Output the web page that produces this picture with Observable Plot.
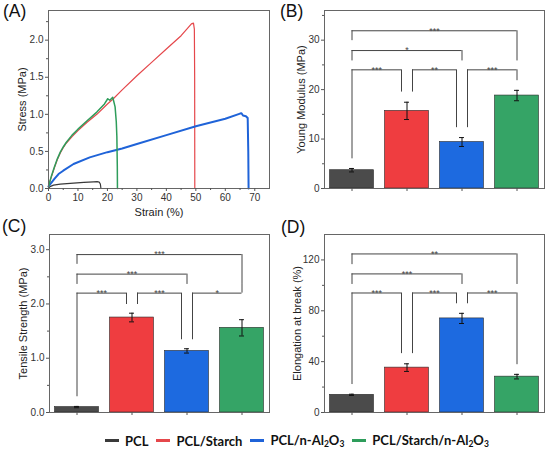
<!DOCTYPE html>
<html>
<head>
<meta charset="utf-8">
<script src="https://cdn.jsdelivr.net/npm/d3@7"></script>
<script src="https://cdn.jsdelivr.net/npm/@observablehq/plot@0.6"></script>
<style>
  body { margin: 0; background: #fff; }
  #wrap { position: relative; width: 550px; height: 451px; font-family: "Liberation Sans", Arial, sans-serif; overflow: hidden; }
  .panel { position: absolute; }
  .plabel { position: absolute; font-size: 17.5px; line-height: 17.5px; color: #111; }
  #legend { position: absolute; left: 105px; top: 432px; display: flex; justify-content: flex-start; align-items: center;
            font-family: Lato, "Open Sans", sans-serif; font-weight: bold; font-size: 13px; color: #111; white-space: nowrap; }
  #legend .item { display: flex; align-items: center; margin-right: 8px; }
  #legend .sw { width: 14px; height: 3px; margin-right: 6px; }
  #legend sub { font-size: 8.5px; vertical-align: -2px; }
</style>
</head>
<body>
<div id="wrap">
  <div class="panel" id="pA" style="left:0;top:0"></div>
  <div class="panel" id="pB" style="left:275px;top:0"></div>
  <div class="panel" id="pC" style="left:0;top:224px"></div>
  <div class="panel" id="pD" style="left:275px;top:224px"></div>
  <div class="plabel" style="left:3px;top:3px">(A)</div>
  <div class="plabel" style="left:280px;top:3px">(B)</div>
  <div class="plabel" style="left:2px;top:218px">(C)</div>
  <div class="plabel" style="left:281px;top:219px">(D)</div>
  <div id="legend"></div>
</div>
<script>
// ---------- categories / colours ----------
const seriesNames = ["PCL", "PCL/Starch", "PCL/n-Al₂O₃", "PCL/Starch/n-Al₂O₃"];
const lineColors = ["#3a3a3a", "#e5474b", "#1f63d8", "#2e9d5b"];
const barColors = ["#4b4b4b", "#ef3d40", "#1d6ae0", "#35a466"];

// ---------- (A) stress–strain curves ----------
const pclStrain = [0, 0.5, 1.7, 4, 8.5, 12, 15.3, 16.5, 17.2, 17.6, 17.8];
const pclStress = [0, 0.025, 0.045, 0.06, 0.073, 0.082, 0.09, 0.092, 0.085, 0.06, 0];

const starchStrain = [0, 0.5, 1, 2, 3, 4, 5, 6, 8, 10, 13, 16.4, 20, 22, 25, 30, 35, 40, 45, 48.5, 49.2, 49.5, 49.6, 49.65];
const starchStress = [0.02, 0.1, 0.16, 0.28, 0.39, 0.48, 0.55, 0.61, 0.70, 0.78, 0.89, 1.0, 1.14, 1.21, 1.33, 1.52, 1.70, 1.88, 2.06, 2.22, 2.23, 2.15, 1.5, 0];

const alStrain = [0, 1, 2, 3.4, 5, 8.5, 14, 20, 25, 30, 40, 50, 60, 65, 65.5, 66, 67, 67.6, 67.8, 67.9];
const alStress = [0.03, 0.08, 0.13, 0.195, 0.24, 0.33, 0.42, 0.49, 0.54, 0.60, 0.72, 0.84, 0.94, 1.01, 1.015, 0.985, 0.975, 0.95, 0.5, 0];

const starchAlStrain = [0, 0.5, 1, 2, 3, 4, 5, 6, 8, 10, 13, 16.4, 19, 20.1, 20.8, 21.8, 22.6, 23.0, 23.2, 23.35, 23.4];
const starchAlStress = [0.02, 0.1, 0.17, 0.29, 0.40, 0.49, 0.56, 0.62, 0.72, 0.80, 0.91, 1.03, 1.14, 1.21, 1.19, 1.23, 1.10, 0.9, 0.7, 0.3, 0];

const curveStrains = [pclStrain, starchStrain, alStrain, starchAlStrain];
const curveStresses = [pclStress, starchStress, alStress, starchAlStress];
const curveWidths = [1.2, 1.2, 2, 1.5];

const aXTicks = [0, 10, 20, 30, 40, 50, 60, 70];
const aXMinor = [5, 15, 25, 35, 45, 55, 65];
const aYTicks = [0, 0.5, 1.0, 1.5, 2.0];
const aYMinor = [0.25, 0.75, 1.25, 1.75, 2.25];

// ---------- (B) Young modulus ----------
const youngMean = [3.7, 15.7, 9.4, 18.8];
const youngErr = [0.35, 1.75, 0.9, 1.05];
const youngPairs = [[0, 1], [1, 2], [2, 3], [0, 2], [0, 3]];
const youngLevel = [24, 24, 24, 27.9, 31.9];
const youngLegA = [6, 19.5, 12.3, 25.8, 29.9];
const youngLegB = [19.5, 12.3, 21.8, 25.8, 25.8];
const youngStars = ["***", "**", "***", "*", "***"];
const bYTicks = [0, 10, 20, 30];
const bYMinor = [5, 15, 25, 35];

// ---------- (C) Tensile strength ----------
const tensileMean = [0.10, 1.75, 1.135, 1.56];
const tensileErr = [0.012, 0.08, 0.04, 0.15];
const tensilePairs = [[0, 1], [1, 2], [2, 3], [0, 2], [0, 3]];
const tensileLevel = [2.20, 2.20, 2.20, 2.55, 2.91];
const tensileLegA = [0.29, 1.99, 1.34, 2.36, 2.73];
const tensileLegB = [1.99, 1.34, 2.36, 2.36, 2.36];
const tensileStars = ["***", "***", "*", "***", "***"];
const cYTicks = [0, 1, 2, 3];
const cYMinor = [0.5, 1.5, 2.5];

// ---------- (D) Elongation at break ----------
const elongMean = [13.9, 35.3, 74.0, 28.2];
const elongErr = [0.5, 3.0, 4.0, 1.8];
const elongPairs = [[0, 1], [1, 2], [2, 3], [0, 2], [0, 3]];
const elongLevel = [94, 94, 94, 109, 124.7];
const elongLegA = [22, 46.3, 85.5, 100.7, 116.3];
const elongLegB = [46.3, 85.5, 37.6, 100.7, 100.7];
const elongStars = ["***", "***", "***", "***", "**"];
const dYTicks = [0, 40, 80, 120];
const dYMinor = [20, 60, 100];

// ---------- shared style ----------
const baseStyle = { fontFamily: '"Liberation Sans", Arial, sans-serif', fontSize: "10px", color: "#333", background: "transparent", overflow: "visible" };
const blank = () => "";

function yAxes(ticks, minor, fmt) {
  return [
    Plot.axisY(ticks, { tickSize: 3, tickPadding: 2, tickFormat: fmt, label: null, fontSize: 10, fill: "#333", stroke: "#555" }),
    Plot.axisY(minor, { tickSize: 2, tickFormat: blank, label: null, stroke: "#555" })
  ];
}

// ---------- panel A ----------
const curveMarks = curveStrains.map((xs, k) =>
  Plot.line(xs.map((x, j) => ({ x, y: curveStresses[k][j] })), { x: "x", y: "y", stroke: lineColors[k], strokeWidth: curveWidths[k] })
);
const plotA = Plot.plot({
  width: 275, height: 225, marginLeft: 48, marginRight: 6, marginTop: 10, marginBottom: 37,
  style: baseStyle,
  x: { domain: [0, 75] },
  y: { domain: [0, 2.4] },
  marks: [
    ...curveMarks,
    Plot.frame({ stroke: "#666" }),
    Plot.axisX(aXTicks, { tickSize: 3, tickPadding: 2, label: null, fontSize: 10, fill: "#333", stroke: "#555" }),
    Plot.axisX(aXMinor, { tickSize: 2, tickFormat: blank, label: null, stroke: "#555" }),
    ...yAxes(aYTicks, aYMinor, d3.format(".1f")),
    Plot.text(["Stress (MPa)"], { frameAnchor: "left", textAnchor: "middle", dx: -26, rotate: -90, fontSize: 11, fill: "#222" }),
    Plot.text(["Strain (%)"], { frameAnchor: "bottom", textAnchor: "middle", dy: 27, fontSize: 11, fill: "#222" })
  ]
});
document.getElementById("pA").append(plotA);

// ---------- bar panels ----------
function barPanel(o) {
  const rows = seriesNames.map((n, i) => ({ n, i, v: o.mean[i], e: o.err[i] }));
  const br = o.pairs.map(([a, b], j) => ({ a, b, y: o.level[j], ya: o.legA[j], yb: o.legB[j], s: o.stars[j] }));
  // shift bracket ends away from a bar shared with another bracket on the same level
  br.forEach(d => {
    const shared = k => br.some(e => e !== d && e.y === d.y && (e.a === k || e.b === k));
    d.xa = d.a + (shared(d.a) ? 0.1 : 0);
    d.xb = d.b - (shared(d.b) ? 0.1 : 0);
    d.xm = (d.xa + d.xb) / 2;
  });
  const bw = 0.4, cap = 0.045, lc = "#444";
  return Plot.plot({
    width: 275, height: o.height, marginLeft: 49, marginRight: 6, marginTop: 10, marginBottom: o.mb,
    style: baseStyle,
    x: { type: "linear", domain: [-0.5, 3.5] },
    y: { domain: o.yDomain },
    color: { domain: seriesNames, range: barColors },
    marks: [
      Plot.rectY(rows, { x1: d => d.i - bw, x2: d => d.i + bw, y: "v", fill: "n", stroke: "#2a2a2a", strokeWidth: 0.6 }),
      Plot.ruleX(rows, { x: "i", y1: d => d.v - d.e, y2: d => d.v + d.e, stroke: "#111", strokeWidth: 1 }),
      Plot.ruleY(rows, { y: d => d.v + d.e, x1: d => d.i - cap, x2: d => d.i + cap, stroke: "#111", strokeWidth: 1 }),
      Plot.ruleY(rows, { y: d => d.v - d.e, x1: d => d.i - cap, x2: d => d.i + cap, stroke: "#111", strokeWidth: 1 }),
      Plot.ruleY(br, { y: "y", x1: "xa", x2: "xb", stroke: lc, strokeWidth: 1 }),
      Plot.ruleX(br, { x: "xa", y1: "ya", y2: "y", stroke: lc, strokeWidth: 1 }),
      Plot.ruleX(br, { x: "xb", y1: "yb", y2: "y", stroke: lc, strokeWidth: 1 }),
      Plot.text(br, { x: "xm", y: "y", text: "s", fontSize: 9, fill: "#444", lineAnchor: "middle" }),
      Plot.frame({ stroke: "#666" }),
      Plot.axisX([0, 1, 2, 3], { tickSize: 3, tickFormat: blank, label: null, stroke: "#555" }),
      ...yAxes(o.yTicks, o.yMinor, o.fmt),
      Plot.text([o.label], { frameAnchor: "left", textAnchor: "middle", dx: -o.labelOffset, rotate: -90, fontSize: 11, fill: "#222" })
    ]
  });
}

document.getElementById("pB").append(barPanel({
  mean: youngMean, err: youngErr, pairs: youngPairs, level: youngLevel, legA: youngLegA, legB: youngLegB, stars: youngStars,
  yDomain: [0, 36], yTicks: bYTicks, yMinor: bYMinor, fmt: d3.format("d"),
  label: "Young Modulus (MPa)", labelOffset: 23, height: 225, mb: 37
}));
document.getElementById("pC").append(barPanel({
  mean: tensileMean, err: tensileErr, pairs: tensilePairs, level: tensileLevel, legA: tensileLegA, legB: tensileLegB, stars: tensileStars,
  yDomain: [0, 3.28], yTicks: cYTicks, yMinor: cYMinor, fmt: d3.format(".1f"),
  label: "Tensile Strength (MPa)", labelOffset: 26, height: 200, mb: 12
}));
document.getElementById("pD").append(barPanel({
  mean: elongMean, err: elongErr, pairs: elongPairs, level: elongLevel, legA: elongLegA, legB: elongLegB, stars: elongStars,
  yDomain: [0, 140], yTicks: dYTicks, yMinor: dYMinor, fmt: d3.format("d"),
  label: "Elongation at break (%)", labelOffset: 27, height: 200, mb: 12
}));

// ---------- legend ----------
const legend = document.getElementById("legend");
seriesNames.forEach((n, i) => {
  const item = document.createElement("span");
  item.className = "item";
  const sw = document.createElement("span");
  sw.className = "sw";
  sw.style.background = lineColors[i];
  const t = document.createElement("span");
  t.innerHTML = n.replace(/₂/g, "<sub>2</sub>").replace(/₃/g, "<sub>3</sub>");
  item.append(sw, t);
  legend.append(item);
});
</script>
</body>
</html>
